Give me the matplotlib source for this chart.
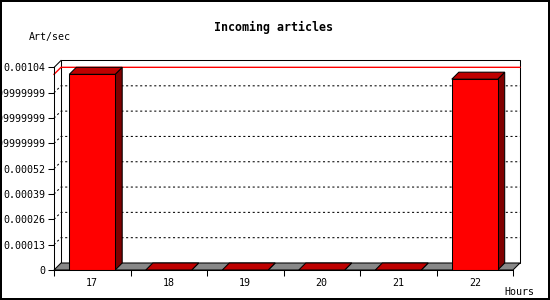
import matplotlib
matplotlib.use("Agg")
import matplotlib.pyplot as plt
from matplotlib.patches import Polygon

# data
hours = ["17", "18", "19", "20", "21", "22"]
art_per_sec = [0.001005, 0, 0, 0, 0, 0.00098]
y_ticks = [0, 0.00013, 0.00026, 0.00039, 0.00052, 0.00065, 0.00078, 0.00091, 0.00104]
y_labels = ["0", "0.00013", "0.00026", "0.00039", "0.00052",
            "0.0006499999999999999", "0.0007799999999999999",
            "0.0009099999999999999", "0.00104"]

font = "DejaVu Sans Mono"
front_col = "#ff0000"
top_col = "#bf0000"
side_col = "#800000"
floor_col = "#888888"
depth = 7  # pixels of 3d depth
lw = 0.75

fig = plt.figure(figsize=(5.5, 3), dpi=100, edgecolor="black", linewidth=1.5)
ax = fig.add_axes([54 / 550, 30 / 300, 459 / 550, 202.5 / 300])

x = list(range(len(hours)))
xmin, xmax = -0.5, len(hours) - 0.5
ymin, ymax = 0, y_ticks[-1]
ax.set_xlim(xmin, xmax)
ax.set_ylim(ymin, ymax)

# depth offset in data units
bb = ax.get_window_extent()
dx = depth * (xmax - xmin) / bb.width
dy = depth * (ymax - ymin) / bb.height

# back wall
ax.add_patch(Polygon([(xmin + dx, dy), (xmax + dx, dy), (xmax + dx, ymax + dy), (xmin + dx, ymax + dy)],
                     closed=True, facecolor="white", edgecolor="black", lw=lw, clip_on=False, zorder=1))
ax.plot([xmin, xmin + dx], [ymax, ymax + dy], color="black", lw=lw, clip_on=False, zorder=1)

# dotted grid on the back wall
for v in y_ticks[1:-1]:
    ax.plot([xmin, xmin + dx, xmax + dx], [v, v + dy, v + dy], color="black", lw=lw,
            linestyle=(0, (2, 2.5)), clip_on=False, zorder=1.5)

# red line at the max value
vmax = max(art_per_sec)
ax.plot([xmin, xmin + dx, xmax + dx], [vmax, vmax + dy, vmax + dy], color="#ff0000", lw=1.0,
        clip_on=False, zorder=1.6)

# floor
ax.add_patch(Polygon([(xmin, 0), (xmax, 0), (xmax + dx, dy), (xmin + dx, dy)],
                     closed=True, facecolor=floor_col, edgecolor="black", lw=lw, clip_on=False, zorder=2))

# bars
w = 0.6
for xi, v in zip(x, art_per_sec):
    l, r = xi - w / 2, xi + w / 2
    ax.add_patch(Polygon([(r, 0), (r + dx, dy), (r + dx, v + dy), (r, v)], closed=True,
                         facecolor=side_col, edgecolor="black", lw=lw, clip_on=False, zorder=3))
    ax.add_patch(Polygon([(l, v), (r, v), (r + dx, v + dy), (l + dx, v + dy)], closed=True,
                         facecolor=top_col, edgecolor="black", lw=lw, clip_on=False, zorder=3))
ax.bar(x, art_per_sec, width=w, color=front_col, edgecolor="black", linewidth=lw, zorder=4)

# axes styling
for s in ["top", "right"]:
    ax.spines[s].set_visible(False)
for s in ["left", "bottom"]:
    ax.spines[s].set_linewidth(lw)
    ax.spines[s].set_zorder(5)
ax.patch.set_visible(False)

ax.set_yticks(y_ticks)
ax.set_yticklabels(y_labels, fontfamily=font, fontsize=7.2)
ax.tick_params(axis="y", length=4, width=lw, pad=2)

ax.set_xticks(x)
ax.set_xticklabels(hours, fontfamily=font, fontsize=7.2)
ax.set_xticks([b - 0.5 for b in x] + [xmax], minor=True)
ax.tick_params(axis="x", which="major", length=0, pad=6)
ax.tick_params(axis="x", which="minor", length=4, width=lw)

fig.text(274 / 550, 1 - 27 / 300, "Incoming articles", ha="center", va="center",
         fontfamily=font, fontsize=8.4, fontweight="bold")
fig.text(50 / 550, 1 - 37 / 300, "Art/sec", ha="center", va="center", fontfamily=font, fontsize=7.2)
fig.text(519 / 550, 1 - 292 / 300, "Hours", ha="center", va="center", fontfamily=font, fontsize=7.2)

fig.savefig("out.png", dpi=100, edgecolor=fig.get_edgecolor())
